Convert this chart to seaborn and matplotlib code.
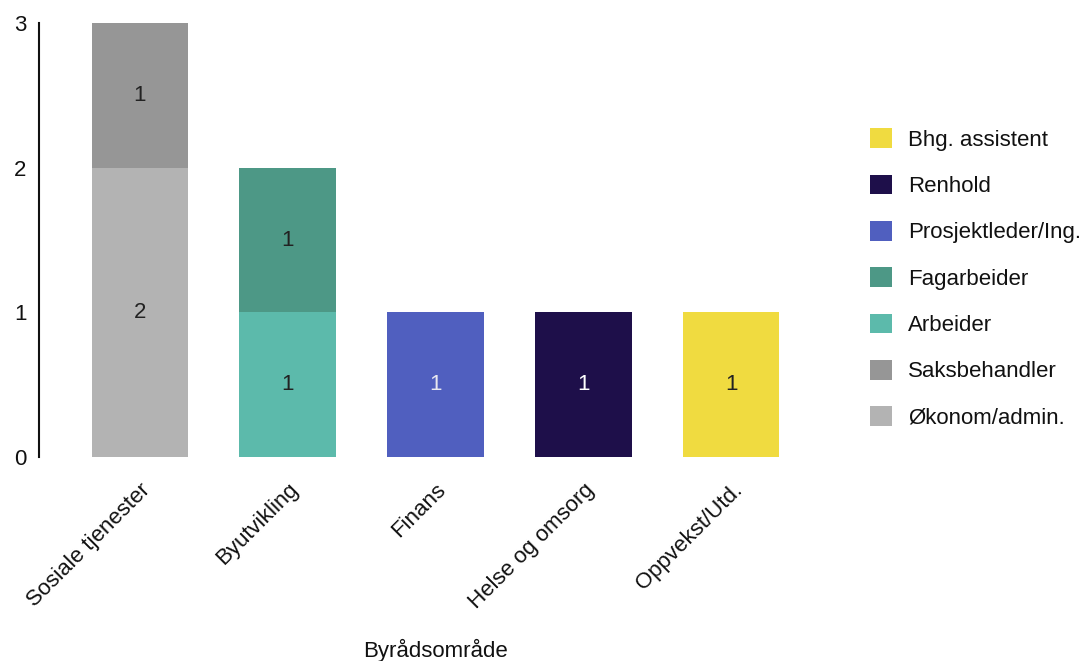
import matplotlib
matplotlib.use("Agg")
import matplotlib.pyplot as plt
from matplotlib.patches import Patch
from matplotlib.transforms import ScaledTranslation
import pandas as pd
import seaborn as sns

# Categories (x axis) and job roles (stack layers, top of legend first)
areas = ["Sosiale tjenester", "Byutvikling", "Finans", "Helse og omsorg", "Oppvekst/Utd."]
roles = ["Bhg. assistent", "Renhold", "Prosjektleder/Ing.", "Fagarbeider",
         "Arbeider", "Saksbehandler", "Økonom/admin."]
role_colors = ["#F0DB40", "#1E0F4A", "#505FBF", "#4D9886",
               "#5CBAAB", "#969696", "#B3B3B3"]
label_colors = ["#222222", "#FFFFFF", "#E8E8F0", "#222222",
                "#222222", "#222222", "#222222"]

# Counts per role, one value per area
counts = {
    "Bhg. assistent":     [0, 0, 0, 0, 1],
    "Renhold":            [0, 0, 0, 1, 0],
    "Prosjektleder/Ing.": [0, 0, 1, 0, 0],
    "Fagarbeider":        [0, 1, 0, 0, 0],
    "Arbeider":           [0, 1, 0, 0, 0],
    "Saksbehandler":      [1, 0, 0, 0, 0],
    "Økonom/admin.":      [2, 0, 0, 0, 0],
}

FS = 16

rows = []
for i, area in enumerate(areas):
    for role in roles:
        v = counts[role][i]
        if v:
            rows.append({"area": area, "role": role, "n": v})
df = pd.DataFrame(rows)
df["area"] = pd.Categorical(df["area"], categories=areas, ordered=True)

sns.set_theme(style="white")
plt.rcParams["font.family"] = ["Liberation Sans", "DejaVu Sans"]

fig = plt.figure(figsize=(10.89, 6.61), dpi=100)
ax = fig.add_axes([0.0358, 0.3086, 0.7282, 0.6565])

sns.histplot(data=df, x="area", hue="role", weights="n", hue_order=roles,
             palette=dict(zip(roles, role_colors)), multiple="stack",
             discrete=True, shrink=0.65, alpha=1, linewidth=0,
             legend=False, ax=ax)

# Segment labels at the centre of each stacked piece (bottom layer first)
for i, area in enumerate(areas):
    base = 0
    for role, lc in zip(roles[::-1], label_colors[::-1]):
        v = counts[role][i]
        if v:
            ax.text(i, base + v / 2, str(v), ha="center", va="center",
                    fontsize=FS, color=lc)
            base += v

ax.set_xlim(-0.68, 4.68)
ax.set_ylim(0, 3)
ax.set_yticks([0, 1, 2, 3])
ax.set_xticks(range(len(areas)))
ax.set_xticklabels(areas, rotation=45, ha="right", rotation_mode="anchor",
                   fontsize=FS, color="#111111")
shift = ScaledTranslation(12 / 72, 0, fig.dpi_scale_trans)
for lbl in ax.get_xticklabels():
    lbl.set_transform(lbl.get_transform() + shift)
ax.tick_params(axis="y", labelsize=FS, labelcolor="#111111", length=0, pad=9)
ax.tick_params(axis="x", length=0, pad=16)
ax.set_ylabel("")
ax.set_xlabel("Byrådsområde", fontsize=FS, color="#111111", labelpad=19)

for side in ["top", "right", "bottom"]:
    ax.spines[side].set_visible(False)
ax.spines["left"].set_color("#111111")
ax.spines["left"].set_linewidth(1.5)
ax.spines["left"].set_position(("data", -0.68))

handles = [Patch(facecolor=c, edgecolor="none") for c in role_colors]
fig.legend(handles, roles, loc="upper left", bbox_to_anchor=(0.799, 0.806),
           bbox_transform=fig.transFigure, frameon=False, fontsize=FS,
           handlelength=1.0, handleheight=1.0, handletextpad=0.72,
           labelspacing=1.07, borderpad=0, borderaxespad=0,
           labelcolor="#111111")

fig.savefig("out.png", dpi=100)
